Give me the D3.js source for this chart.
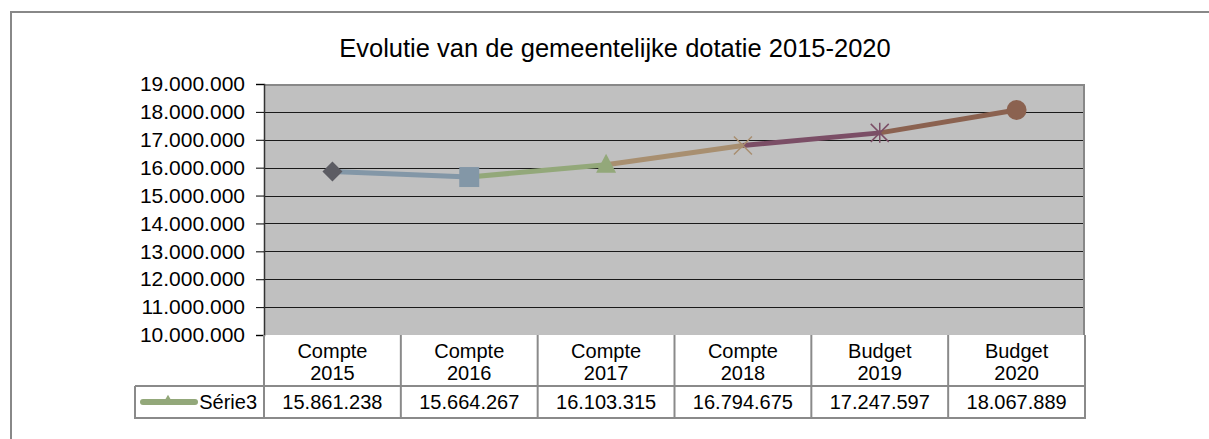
<!DOCTYPE html>
<html>
<head>
<meta charset="utf-8">
<script src="https://cdn.jsdelivr.net/npm/d3@7"></script>
<style>
  body { margin: 0; background: #fff; }
  svg { font-family: "Liberation Sans", Arial, sans-serif; display: block; }
</style>
</head>
<body>
<div id="chart"></div>
<script>
const WIDTH = 1209;
const HEIGHT = 439;

const labelTop = ["Compte", "Compte", "Compte", "Compte", "Budget", "Budget"];
const years = ["2015", "2016", "2017", "2018", "2019", "2020"];
const values = [15861238, 15664267, 16103315, 16794675, 17247597, 18067889];
const yTicks = [10000000, 11000000, 12000000, 13000000, 14000000, 15000000, 16000000, 17000000, 18000000, 19000000];
const seriesName = "Série3";

// point colours (Excel "vary colours by point")
const pointColors = ["#5c5c63", "#8397a7", "#93a87a", "#a88f70", "#7b4e66", "#8b6250"];
const markerTypes = ["diamond", "square", "triangle", "x", "asterisk", "circle"];

const plot = { left: 264, right: 1085, top: 84, bottom: 335 };
const rowH = [51, 32];

const nl = d3.formatLocale({ decimal: ",", thousands: ".", grouping: [3], currency: ["", ""] });
const fmt = nl.format(",d");

const x = d3.scaleBand().domain(years).range([plot.left, plot.right]);
const y = d3.scaleLinear().domain([10000000, 19000000]).range([plot.bottom, plot.top]);

const svg = d3.select('#chart').append('svg')
  .attr('width', WIDTH).attr('height', HEIGHT);

// outer chart border
svg.append('rect')
  .attr('x', 11).attr('y', 12).attr('width', 1240).attr('height', 460)
  .attr('fill', '#fff').attr('stroke', '#888').attr('stroke-width', 2);

svg.append('text')
  .attr('x', 615).attr('y', 57)
  .attr('text-anchor', 'middle')
  .attr('font-size', 25.5)
  .attr('fill', '#000')
  .text('Evolutie van de gemeentelijke dotatie 2015-2020');

// plot area
svg.append('rect')
  .attr('x', plot.left).attr('y', plot.top)
  .attr('width', plot.right - plot.left).attr('height', plot.bottom - plot.top)
  .attr('fill', '#c0c0c0');

// gridlines
svg.append('g').selectAll('line')
  .data(yTicks.slice(1, -1))
  .join('line')
    .attr('x1', plot.left).attr('x2', plot.right)
    .attr('y1', d => Math.round(y(d)) + 0.5).attr('y2', d => Math.round(y(d)) + 0.5)
    .attr('stroke', '#1a1a1a').attr('stroke-width', 1);

// plot frame top / right
svg.append('path')
  .attr('d', `M${plot.left},${plot.top + 1}H${plot.right - 1}V${plot.bottom}`)
  .attr('fill', 'none').attr('stroke', '#888').attr('stroke-width', 2);

// y axis
const yAxis = svg.append('g')
  .attr('transform', `translate(${plot.left},0)`)
  .call(d3.axisLeft(y).tickValues(yTicks).tickFormat(fmt).tickSize(8).tickPadding(11));
yAxis.select('.domain').attr('stroke', '#333').attr('stroke-width', 1.5);
yAxis.selectAll('.tick line').attr('stroke', '#000');
yAxis.selectAll('text').attr('font-size', 21).attr('fill', '#000')
  .attr('font-family', '"Liberation Sans", Arial, sans-serif');

// data table
const tbl = svg.append('g');
const tTop = plot.bottom;
const tMid = tTop + rowH[0];
const tBot = tMid + rowH[1];
const legendLeft = 135;

tbl.append('path')
  .attr('d', `M${plot.left},${tTop}V${tBot}H${plot.right}V${tTop}` +
             `M${legendLeft},${tMid}H${plot.right}` +
             `M${legendLeft},${tMid}V${tBot}H${plot.left}`)
  .attr('fill', 'none').attr('stroke', '#8a8a8a').attr('stroke-width', 2);

tbl.selectAll('line.col')
  .data(years.slice(1))
  .join('line')
    .attr('class', 'col')
    .attr('x1', d => x(d)).attr('x2', d => x(d))
    .attr('y1', tTop).attr('y2', tBot)
    .attr('stroke', '#8a8a8a').attr('stroke-width', 2);

const cells = tbl.selectAll('g.cell')
  .data(years)
  .join('g')
    .attr('class', 'cell')
    .attr('transform', d => `translate(${x(d) + x.bandwidth() / 2},0)`);

cells.append('text')
  .attr('y', tTop + 23).attr('text-anchor', 'middle').attr('font-size', 20)
  .text((d, i) => labelTop[i]);
cells.append('text')
  .attr('y', tTop + 45).attr('text-anchor', 'middle').attr('font-size', 20)
  .text(d => d);
cells.append('text')
  .attr('y', tMid + 23).attr('text-anchor', 'middle').attr('font-size', 20)
  .text((d, i) => fmt(values[i]));

// legend key
const legY = tMid + rowH[1] / 2;
tbl.append('line')
  .attr('x1', 143).attr('x2', 195).attr('y1', legY).attr('y2', legY)
  .attr('stroke', pointColors[2]).attr('stroke-width', 6).attr('stroke-linecap', 'round');
tbl.append('path')
  .attr('transform', `translate(168,${legY - 1})`)
  .attr('d', d3.symbol(d3.symbolTriangle, 50)())
  .attr('fill', pointColors[2]);
tbl.append('text')
  .attr('x', 257).attr('y', tMid + 23).attr('text-anchor', 'end').attr('font-size', 20)
  .text(seriesName);

// series line segments, coloured by end point
const pts = years.map((d, i) => [x(d) + x.bandwidth() / 2, y(values[i])]);
svg.append('g').selectAll('line')
  .data(d3.pairs(pts))
  .join('line')
    .attr('x1', d => d[0][0]).attr('y1', d => d[0][1])
    .attr('x2', d => d[1][0]).attr('y2', d => d[1][1])
    .attr('stroke', (d, i) => pointColors[i + 1])
    .attr('stroke-width', 5);

// markers
const mk = svg.append('g');
pts.forEach((p, i) => {
  const c = pointColors[i];
  const g = mk.append('g').attr('transform', `translate(${p[0]},${p[1]})`);
  const t = markerTypes[i];
  if (t === 'diamond') {
    g.append('path').attr('d', 'M0,-10L10,0L0,10L-10,0Z').attr('fill', c);
  } else if (t === 'square') {
    g.append('rect').attr('x', -10).attr('y', -10).attr('width', 20).attr('height', 20).attr('fill', c);
  } else if (t === 'triangle') {
    g.append('path').attr('d', 'M0,-11L10,8L-10,8Z').attr('fill', c);
  } else if (t === 'x') {
    g.append('path').attr('d', 'M-9,-9L9,9M-9,9L9,-9').attr('stroke', c).attr('stroke-width', 1.5);
  } else if (t === 'asterisk') {
    g.append('path').attr('d', 'M-9,-9L9,9M-9,9L9,-9M0,-10V10')
      .attr('stroke', c).attr('stroke-width', 1.5);
  } else {
    g.append('circle').attr('r', 10).attr('fill', c);
  }
});
</script>
</body>
</html>
